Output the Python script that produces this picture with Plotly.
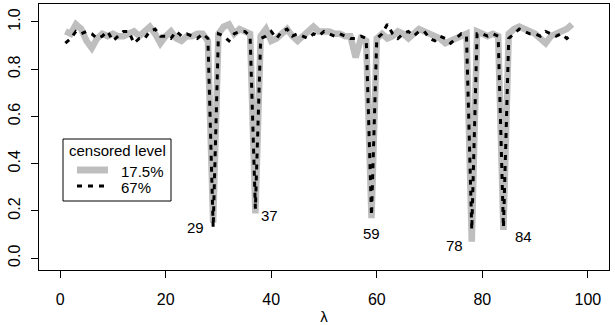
import plotly.graph_objects as go

# lambda index 1..97
lam = list(range(1, 98))

# censored level 17.5% (thick grey line)
cens_175 = [
    0.96, 0.95, 0.99, 0.97, 0.92, 0.89, 0.93, 0.95, 0.94, 0.95,
    0.94, 0.94, 0.95, 0.96, 0.94, 0.96, 0.98, 0.95, 0.91, 0.94,
    0.96, 0.93, 0.92, 0.94, 0.94, 0.95, 0.95, 0.92, 0.15, 0.95,
    0.98, 0.99, 0.95, 0.97, 0.96, 0.95, 0.19, 0.94, 0.97, 0.92,
    0.93, 0.95, 0.97, 0.94, 0.92, 0.94, 0.96, 0.98, 0.96, 0.96,
    0.96, 0.95, 0.95, 0.94, 0.94, 0.85, 0.93, 0.92, 0.17, 0.93,
    0.95, 0.93, 0.94, 0.96, 0.95, 0.93, 0.95, 0.97, 0.96, 0.95,
    0.94, 0.93, 0.91, 0.92, 0.93, 0.94, 0.95, 0.07, 0.96, 0.95,
    0.94, 0.95, 0.94, 0.12, 0.95, 0.97, 0.98, 0.97, 0.96, 0.95,
    0.93, 0.91, 0.94, 0.95, 0.96, 0.97, 0.99,
]

# censored level 67% (black dotted line)
cens_67 = [
    0.91, 0.93, 0.96, 0.95, 0.96, 0.95, 0.93, 0.94, 0.96, 0.92,
    0.94, 0.96, 0.96, 0.91, 0.93, 0.93, 0.96, 0.97, 0.94, 0.94,
    0.93, 0.96, 0.94, 0.95, 0.94, 0.93, 0.95, 0.93, 0.13, 0.95,
    0.94, 0.92, 0.95, 0.96, 0.96, 0.94, 0.21, 0.93, 0.94, 0.96,
    0.93, 0.96, 0.97, 0.94, 0.95, 0.94, 0.93, 0.95, 0.94, 0.96,
    0.95, 0.94, 0.95, 0.94, 0.93, 0.93, 0.94, 0.93, 0.18, 0.93,
    0.95, 0.99, 0.95, 0.93, 0.95, 0.96, 0.94, 0.96, 0.96, 0.93,
    0.92, 0.94, 0.93, 0.91, 0.93, 0.95, 0.94, 0.12, 0.95, 0.95,
    0.94, 0.95, 0.94, 0.13, 0.93, 0.95, 0.97, 0.96, 0.95, 0.95,
    0.94, 0.96, 0.95, 0.94, 0.95, 0.93, 0.95,
]

# labelled dips
dip_idx = [29, 37, 59, 78, 84]

x_ticks = [0, 20, 40, 60, 80, 100]
y_ticks = [0.0, 0.2, 0.4, 0.6, 0.8, 1.0]

legend_title = "censored level"
legend_labels = ["17.5%", "67%"]

FONT = "Liberation Sans, Arial, sans-serif"
W, H = 615, 325
M = dict(l=39, r=6, t=4, b=55)


def px_to_paper(px, py):
    """Pixel position in the page -> paper coords (for the hand-drawn legend)."""
    pw = W - M["l"] - M["r"]
    ph = H - M["t"] - M["b"]
    return (px - M["l"]) / pw, (H - M["b"] - py) / ph


fig = go.Figure()
fig.add_trace(go.Scatter(
    x=lam, y=cens_175, mode="lines", name=legend_labels[0],
    line=dict(color="#BEBEBE", width=6.5),
))
fig.add_trace(go.Scatter(
    x=lam, y=cens_67, mode="lines", name=legend_labels[1],
    line=dict(color="black", width=3, dash="5px,6px"),
))

# where each dip label sits relative to the bottom of its dip (pixels)
label_pos = {
    29: dict(xanchor="right", yanchor="middle", xshift=-7, yshift=0),
    37: dict(xanchor="left", yanchor="middle", xshift=4, yshift=-2),
    59: dict(xanchor="center", yanchor="top", xshift=0, yshift=-5),
    78: dict(xanchor="right", yanchor="middle", xshift=-7, yshift=-4),
    84: dict(xanchor="left", yanchor="middle", xshift=10, yshift=-7),
}
for k in dip_idx:
    yv = min(cens_175[k - 1], cens_67[k - 1])
    fig.add_annotation(x=k, y=yv, text=str(k), showarrow=False,
                       font=dict(size=15, color="black", family=FONT),
                       **label_pos[k])

# legend box, drawn like R's legend()
bx0, by0 = px_to_paper(63, 201)
bx1, by1 = px_to_paper(171, 139)
fig.add_shape(type="rect", xref="paper", yref="paper",
              x0=bx0, y0=by0, x1=bx1, y1=by1,
              line=dict(color="black", width=1), fillcolor="white")
tx, ty = px_to_paper(67, 150)
fig.add_annotation(xref="paper", yref="paper", x=tx, y=ty, text=legend_title,
                   showarrow=False, xanchor="left", yanchor="middle",
                   font=dict(size=15, family=FONT, color="black"))
key_styles = [dict(color="#BEBEBE", width=7), dict(color="black", width=3, dash="5px,6px")]
for i, (lab, sty) in enumerate(zip(legend_labels, key_styles)):
    row_y = 170 + i * 16
    sx0, sy = px_to_paper(77, row_y)
    sx1, _ = px_to_paper(108, row_y)
    fig.add_shape(type="line", xref="paper", yref="paper",
                  x0=sx0, y0=sy, x1=sx1, y1=sy, line=sty)
    lx, ly = px_to_paper(119, row_y + 1)
    fig.add_annotation(xref="paper", yref="paper", x=lx, y=ly, text=lab,
                       showarrow=False, xanchor="left", yanchor="middle",
                       font=dict(size=15, family=FONT, color="black"))

fig.update_layout(
    width=W, height=H, margin=M,
    paper_bgcolor="white", plot_bgcolor="white",
    font=dict(family=FONT, size=16, color="black"),
    showlegend=False,
)
fig.update_xaxes(
    range=[-4, 104], tickvals=x_ticks, ticks="outside", ticklen=7,
    tickcolor="black", showline=True, linecolor="black", linewidth=1,
    mirror=True, showgrid=False, zeroline=False, automargin=False,
    ticklabelstandoff=8, tickfont=dict(size=16),
    title=dict(text="λ", standoff=5, font=dict(size=15)),
)
fig.update_yaxes(
    range=[-0.05, 1.076], tickvals=y_ticks, tickformat=".1f",
    tickangle=-90, ticks="outside", ticklen=7, tickcolor="black",
    showline=True, linecolor="black", linewidth=1, mirror=True,
    showgrid=False, zeroline=False, automargin=False,
    ticklabelstandoff=5, tickfont=dict(size=16),
)

# page body has a default 8px margin; remove it so the figure fills the window
fig.write_html("out.html", config={"displayModeBar": False},
               post_script="document.body.style.margin='0';")
